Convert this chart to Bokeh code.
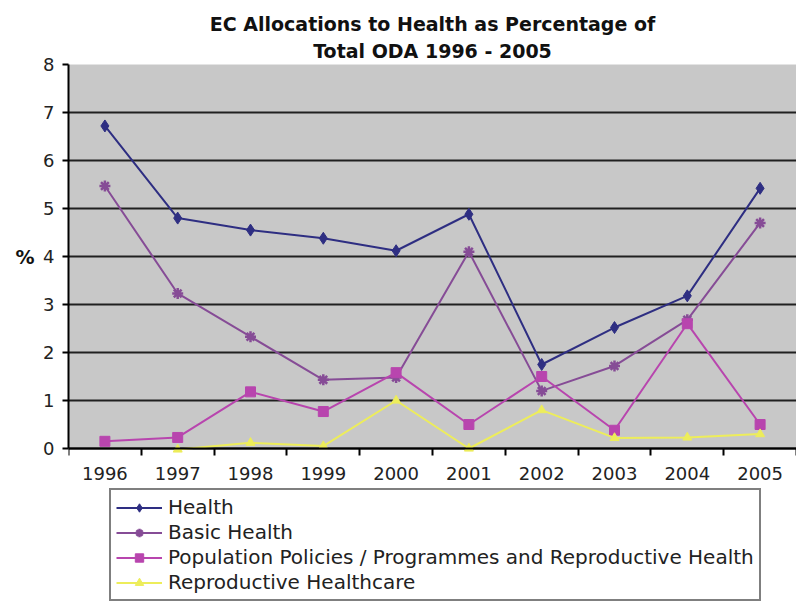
import math
from bokeh.plotting import figure
from bokeh.models import (Range1d, FixedTicker, Legend, LegendItem, Title, BoxAnnotation,
                          LinearAxis)
from bokeh.embed import file_html
from bokeh.resources import INLINE

years = [1996, 1997, 1998, 1999, 2000, 2001, 2002, 2003, 2004, 2005]
health = [6.72, 4.80, 4.55, 4.38, 4.12, 4.88, 1.75, 2.52, 3.18, 5.42]
basic_health = [5.47, 3.23, 2.33, 1.43, 1.48, 4.10, 1.20, 1.72, 2.68, 4.70]
population = [0.15, 0.23, 1.18, 0.77, 1.58, 0.50, 1.50, 0.38, 2.60, 0.50]
repro_care = [math.nan, -0.02, 0.12, 0.05, 1.00, 0.00, 0.80, 0.22, 0.23, 0.30]

series_names = ["Health", "Basic Health",
                "Population Policies / Programmes and Reproductive Health",
                "Reproductive Healthcare"]
y_ticks = [0, 1, 2, 3, 4, 5, 6, 7, 8]
grid_ticks = [0, 1, 2, 3, 4, 5, 6, 7]
y_min, y_max = 0, 8
y_title = "%"

FONT = "DejaVu Sans"

# frame: top 64px, 48px per unit, extends below zero to hold the legend
FRAME_TOP = 64
FIG_H = 604
frame_h = FIG_H - FRAME_TOP - 2
units_below = frame_h / 48.0 - (y_max - y_min)

p = figure(width=796, height=FIG_H, output_backend="svg", toolbar_location=None,
           x_range=Range1d(years[0] - 0.5, years[-1] + 0.5),
           y_range=Range1d(y_min - units_below, y_max),
           min_border_left=68, min_border_right=0, min_border_top=FRAME_TOP,
           min_border_bottom=2)

p.background_fill_color = "white"
p.border_fill_color = "white"
p.outline_line_color = None

plot_area = BoxAnnotation(bottom=y_min, top=y_max, fill_color="#C8C8C8", fill_alpha=1.0,
                          line_color="#9A9A9A", line_width=1, level="image")
p.add_layout(plot_area)

# titles (line 2 first so it sits closest to the plot)
t2 = Title(text="Total ODA 1996 - 2005", align="center",
           text_font=FONT, text_font_size="19px", text_font_style="bold",
           text_color="#111111", standoff=6, offset=0)
t1 = Title(text="EC Allocations to Health as Percentage of", align="center",
           text_font=FONT, text_font_size="19px", text_font_style="bold",
           text_color="#111111", standoff=0, offset=0)
p.add_layout(t2, "above")
p.add_layout(t1, "above")

# x axis placed at y = 0
p.xaxis.fixed_location = y_min
p.xaxis.ticker = FixedTicker(ticks=years,
                             minor_ticks=[y - 0.5 for y in years] + [years[-1] + 0.5])
p.xaxis.major_label_overrides = {y: str(y) for y in years}
p.xaxis.major_tick_out = 0
p.xaxis.major_tick_in = 0
p.xaxis.minor_tick_out = 7
p.xaxis.minor_tick_in = 0
p.xaxis.minor_tick_line_color = "black"
p.xaxis.minor_tick_line_width = 2
p.xaxis.axis_line_color = "black"
p.xaxis.axis_line_width = 2
p.xaxis.major_label_text_font = FONT
p.xaxis.major_label_text_font_size = "18px"
p.xaxis.major_label_text_color = "#222222"
p.xaxis.major_label_standoff = 11

p.yaxis.bounds = (y_min, y_max)
p.yaxis.ticker = FixedTicker(ticks=y_ticks)
p.yaxis.minor_tick_line_color = None
p.yaxis.major_tick_out = 6
p.yaxis.major_tick_in = 0
p.yaxis.major_tick_line_color = "black"
p.yaxis.major_tick_line_width = 2
p.yaxis.axis_line_color = "black"
p.yaxis.axis_line_width = 2
p.yaxis.major_label_text_font = FONT
p.yaxis.major_label_text_font_size = "18px"
p.yaxis.major_label_text_color = "#222222"
p.yaxis.major_label_standoff = 8

# "%" axis title, aligned with the middle of the 0-8 scale
mid = (y_min + y_max) / 2
pct_axis = LinearAxis(ticker=FixedTicker(ticks=[mid]),
                      major_label_overrides={mid: y_title},
                      bounds=(y_min, y_max),
                      axis_line_color=None, major_tick_line_color=None,
                      minor_tick_line_color=None,
                      major_tick_out=0, major_tick_in=0,
                      major_label_standoff=6,
                      major_label_text_font=FONT,
                      major_label_text_font_size="19px",
                      major_label_text_font_style="bold",
                      major_label_text_color="#111111")
p.add_layout(pct_axis, "left")

p.xgrid.grid_line_color = None
p.ygrid.ticker = FixedTicker(ticks=grid_ticks)
p.ygrid.grid_line_color = "#202020"
p.ygrid.grid_line_width = 2

colors = ["#2E2E82", "#864C96", "#B845AE", "#EDED5A"]
markers = ["diamond", "asterisk", "square", "triangle"]
sizes = [12, 11, 10, 9]
data = [health, basic_health, population, repro_care]

items = []
for name, vals, col, mk, sz in zip(series_names, data, colors, markers, sizes):
    r1 = p.line(years, vals, line_color=col, line_width=2)
    if mk == "asterisk":
        r2 = p.scatter(years, vals, marker=mk, size=sz, line_color=col, line_width=2.5)
    else:
        r2 = p.scatter(years, vals, marker=mk, size=sz, fill_color=col, line_color=col)
    items.append(LegendItem(label=name, renderers=[r1, r2]))

legend = Legend(items=items, location=(41, 1), orientation="vertical",
                margin=0, padding=5, spacing=1,
                label_height=21, glyph_height=21, glyph_width=46,
                label_standoff=6,
                label_text_font=FONT, label_text_font_size="20px",
                label_text_color="#222222",
                border_line_color="black", border_line_width=2,
                background_fill_color="white", background_fill_alpha=1.0)
p.add_layout(legend, "center")

open("out.html", "w").write(file_html(p, INLINE))
